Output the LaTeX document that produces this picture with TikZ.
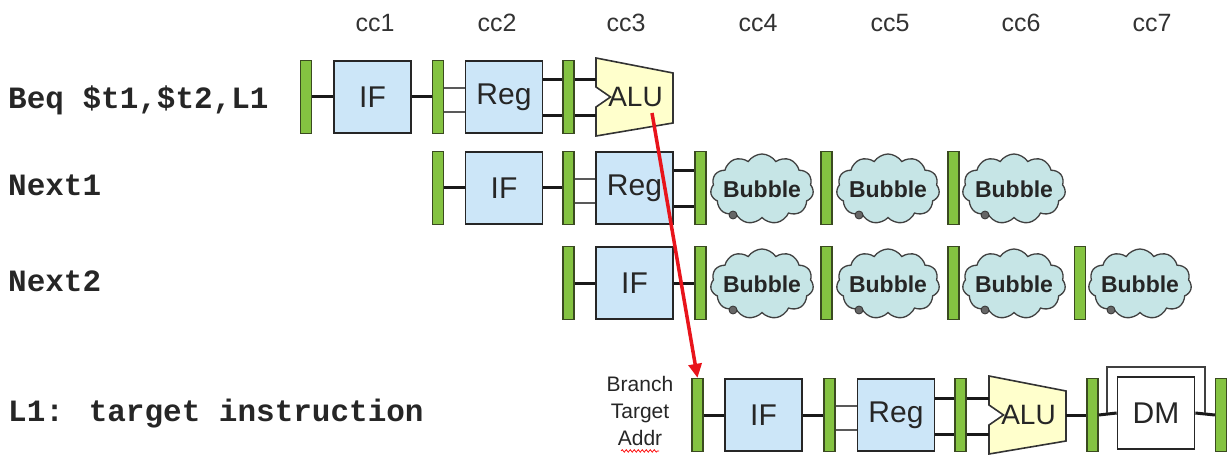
\documentclass[tikz,border=0pt]{standalone}
\usepackage{fontspec}
\setmainfont{Liberation Sans}
\newfontfamily\codefont{Liberation Mono}
\usetikzlibrary{shapes.symbols,arrows.meta,calc,decorations.pathmorphing}
\definecolor{latchg}{HTML}{84C341}
\definecolor{latchb}{HTML}{3A4A20}
\definecolor{boxblue}{HTML}{CCE6F8}
\definecolor{aluy}{HTML}{FFFFCC}
\definecolor{cloudc}{HTML}{C6E5E6}
\definecolor{redarr}{HTML}{E8141B}
\tikzset{
 latch/.style={draw=latchb, fill=latchg, line width=1.3pt, minimum width=11pt, minimum height=73pt, inner sep=0pt},
 stagebox/.style={draw=black!85, fill=boxblue, line width=1.7pt, minimum width=77pt, minimum height=72pt, inner sep=0pt, font=\fontsize{30}{30}\selectfont, text=black!85},
 dmbox/.style={stagebox, fill=white},
 wire/.style={line width=3pt, black!90},
 thinwire/.style={line width=1.5pt, black!65},
 bubble/.style={cloud, cloud puffs=11, cloud puff arc=115, aspect=1.5, draw=black!75, fill=cloudc, line width=1.3pt, minimum width=103pt, minimum height=70pt, inner sep=0pt},
 bubtext/.style={font=\fontsize{23}{23}\selectfont\bfseries, text=black!85, inner sep=0pt},
 bubdot/.style={circle, draw=black!80, fill=black!60, minimum size=8pt, inner sep=0pt, line width=0.8pt},
 cclabel/.style={anchor=base, font=\fontsize{25}{25}\selectfont, text=black!80},
 rowlabel/.style={anchor=base west, font=\codefont\bfseries\fontsize{31}{31}\selectfont, text=black!85, inner sep=0pt},
 alushape/.style={draw=black!80, fill=aluy, line width=1.6pt, line join=miter},
 alutext/.style={font=\fontsize{28}{28}\selectfont, text=black!85, inner sep=0pt},
}
\newcommand\aluunit[3]{%
 \filldraw[alushape] (#2-38.5,#3-39) -- (#2+38.5,#3-24) -- (#2+38.5,#3+26) -- (#2-38.5,#3+39)
   -- (#2-38.5,#3+10) -- (#2-24,#3) -- (#2-38.5,#3-10) -- cycle;
 \coordinate (#1w) at (#2-38.5,#3);
 \coordinate (#1e) at (#2+38.5,#3);
 \node[alutext] (#1) at (#2+1,#3) {ALU};
}
\newcommand\bubbleunit[3]{%
 \node[bubble] (#1) at (#2,#3) {};
 \node[bubtext] (#1t) at (#2,#3) {Bubble};
 \node[bubdot] (#1d) at (#2-29,#3+26) {};
}
\begin{document}
\begin{tikzpicture}[x=1pt,y=-1pt]
\useasboundingbox (0,0) rectangle (1229,457);
% clock cycle labels
\node[cclabel] (cc1) at (375,32) {cc1};
\node[cclabel] (cc2) at (497,32) {cc2};
\node[cclabel] (cc3) at (626,32) {cc3};
\node[cclabel] (cc4) at (758,32) {cc4};
\node[cclabel] (cc5) at (890,32) {cc5};
\node[cclabel] (cc6) at (1021,32) {cc6};
\node[cclabel] (cc7) at (1152,32) {cc7};
% row labels
\node[rowlabel] (lab1) at (8,109) {Beq \$t1,\$t2,L1};
\node[rowlabel] (lab2) at (8,196) {Next1};
\node[rowlabel] (lab3) at (8,291) {Next2};
\node[rowlabel] (lab4) at (8,421) {L1: target instruction};

% ---- Row 1 : Beq
\node[latch] (L11) at (306,97) {};
\node[stagebox] (IF1) at (372.5,97) {IF};
\node[latch] (L12) at (438,97) {};
\node[stagebox] (RG1) at (504,97) {Reg};
\node[latch] (L13) at (568.5,97) {};
\aluunit{AL1}{634.5}{97}
\draw[wire] (L11.east) -- (IF1.west);
\draw[wire] (IF1.east) -- (L12.west);
\draw[thinwire] ([yshift=9pt]L12.east) -- ([yshift=9pt]RG1.west);
\draw[thinwire] ([yshift=-15pt]L12.east) -- ([yshift=-15pt]RG1.west);
\draw[wire] ([yshift=17pt]RG1.east) -- ([yshift=17pt]L13.west);
\draw[wire] ([yshift=-19pt]RG1.east) -- ([yshift=-19pt]L13.west);
\draw[wire] ([yshift=17pt]L13.east) -- ([yshift=17pt]AL1w);
\draw[wire] ([yshift=-19pt]L13.east) -- ([yshift=-19pt]AL1w);

% ---- Row 2 : Next1
\node[latch] (L21) at (438,188) {};
\node[stagebox] (IF2) at (504,188) {IF};
\node[latch] (L22) at (568.5,188) {};
\node[stagebox] (RG2) at (634.5,188) {Reg};
\node[latch] (L23) at (700.5,188) {};
\bubbleunit{B21}{762}{189}
\node[latch] (L24) at (826.5,188) {};
\bubbleunit{B22}{888}{189}
\node[latch] (L25) at (953.5,188) {};
\bubbleunit{B23}{1014}{189}
\draw[wire] (L21.east) -- (IF2.west);
\draw[wire] (IF2.east) -- (L22.west);
\draw[thinwire] ([yshift=9pt]L22.east) -- ([yshift=9pt]RG2.west);
\draw[thinwire] ([yshift=-15pt]L22.east) -- ([yshift=-15pt]RG2.west);
\draw[wire] ([yshift=17pt]RG2.east) -- ([yshift=17pt]L23.west);
\draw[wire] ([yshift=-19pt]RG2.east) -- ([yshift=-19pt]L23.west);

% ---- Row 3 : Next2
\node[latch] (L31) at (568.5,283) {};
\node[stagebox] (IF3) at (634.5,283) {IF};
\node[latch] (L32) at (700.5,283) {};
\bubbleunit{B31}{762}{284}
\node[latch] (L33) at (826.5,283) {};
\bubbleunit{B32}{888}{284}
\node[latch] (L34) at (953.5,283) {};
\bubbleunit{B33}{1014}{284}
\node[latch] (L35) at (1080,283) {};
\bubbleunit{B34}{1140}{284}
\draw[wire] (L31.east) -- (IF3.west);
\draw[wire] (IF3.east) -- (L32.west);

% ---- Row 4 : L1 target
\node[align=center, font=\fontsize{21}{27}\selectfont, text=black!85, inner sep=0pt] (bta) at (640,411) {Branch\\Target\\Addr};
\draw[red, line width=0.7pt, decorate, decoration={snake, amplitude=1.3pt, segment length=4pt}] ($(bta.south)+(-19,5)$) coordinate (sq1) -- ($(bta.south)+(19,5)$) coordinate (sq2);
\node[latch] (L41) at (697.5,415) {};
\node[stagebox] (IF4) at (763.5,415) {IF};
\node[latch] (L42) at (829.5,415) {};
\node[stagebox] (RG4) at (896,415) {Reg};
\node[latch] (L43) at (960.5,415) {};
\aluunit{AL4}{1027.5}{415}
\node[latch] (L44) at (1092.5,415) {};
\node[dmbox] (DM) at (1156,413) {DM};
\node[latch] (L45) at (1221,415) {};
\draw[wire] (L41.east) -- (IF4.west);
\draw[wire] (IF4.east) -- (L42.west);
\draw[thinwire] ([yshift=9pt]L42.east) -- ([yshift=9pt]RG4.west);
\draw[thinwire] ([yshift=-15pt]L42.east) -- ([yshift=-15pt]RG4.west);
\draw[wire] ([yshift=17pt]RG4.east) -- ([yshift=17pt]L43.west);
\draw[wire] ([yshift=-19pt]RG4.east) -- ([yshift=-19pt]L43.west);
\draw[wire] ([yshift=17pt]L43.east) -- ([yshift=17pt]AL4w);
\draw[wire] ([yshift=-19pt]L43.east) -- ([yshift=-19pt]AL4w);
\draw[wire] (AL4e) -- (L44.west);
\draw[wire] (L44.east) -- (DM.west);
\draw[wire] (DM.east) -- (L45.west);
\draw[line width=1.8pt, black!75] ($(DM.west)+(-10,0)$) -- ($(DM.north west)+(-10,-9)$) -- ($(DM.north east)+(10,-9)$) -- ($(DM.east)+(10,0)$);

% ---- branch arrow
\coordinate (brs) at (652,113);
\draw[redarr, line width=3.5pt, -{Triangle[length=14pt,width=13pt]}] (brs) -- (L41.north);
\end{tikzpicture}
\end{document}
